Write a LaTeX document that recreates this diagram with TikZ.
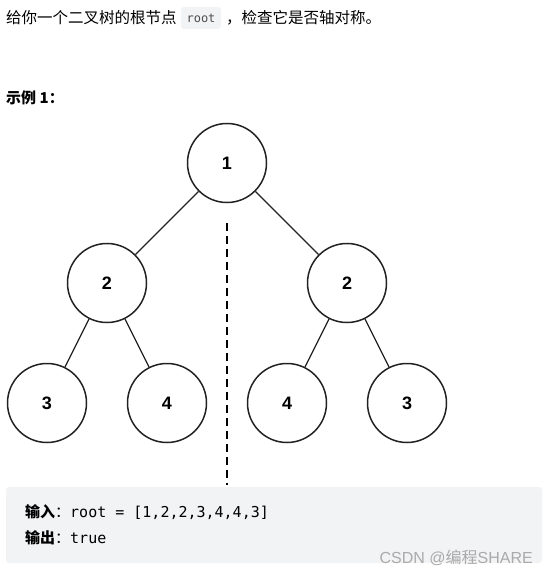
\documentclass[tikz,border=0pt]{standalone}
\usepackage{fontspec}
\setmainfont{Liberation Sans}
\setmonofont{DejaVu Sans Mono}
\newfontfamily\cjk{Noto Sans CJK SC}
\usepackage{xcolor}
\definecolor{ink}{RGB}{34,34,34}
\definecolor{codebg}{RGB}{242,243,245}
\definecolor{mark}{RGB}{170,170,170}
\usetikzlibrary{positioning}

\begin{document}
\begin{tikzpicture}[
        x=1pt, y=-1pt,
        treenode/.style={circle, draw=ink, line width=1.5pt, minimum size=79pt, inner sep=0pt, font=\fontsize{18}{18}\selectfont\bfseries},
        edge/.style={draw=ink, line width=1.3pt},
        axis/.style={draw=black, line width=2.6pt, dash pattern=on 8pt off 5pt},
        txt/.style={anchor=west, inner sep=0pt, font=\fontsize{15}{15}\selectfont\cjk}
    ]
        \useasboundingbox (0,0) rectangle (548,577);

        % heading text
        \fill[codebg, rounded corners=3pt] (181,7) rectangle (221,29);
        \node[txt, font=\fontsize{15.5}{15.5}\selectfont\cjk] (q1) at (6,18) {给你一个二叉树的根节点};
        \node[anchor=center, inner sep=0pt, font=\fontsize{12}{12}\ttfamily, text=ink!80] (code) at (201,18) {root};
        \node[txt, font=\fontsize{15.5}{15.5}\selectfont\cjk] (q2) at (226,18) {，检查它是否轴对称。};
        \node[txt, font=\fontsize{15}{15}\selectfont\cjk\bfseries] (ex) at (6,98) {示例 \textbf{1}：};

        % tree
        \node[treenode] (root) at (227,163) {1};
        \node[treenode] (l) at (107,283) {2};
        \node[treenode] (r) at (347,283) {2};
        \node[treenode] (ll) at (47,403) {3};
        \node[treenode] (lr) at (167,403) {4};
        \node[treenode] (rl) at (287,403) {4};
        \node[treenode] (rr) at (407,403) {3};

        \foreach \a/\b in {root/l, root/r, l/ll, l/lr, r/rl, r/rr} {
            \draw[edge] (\a) -- (\b);
        }

        % mirror axis
        \coordinate (axtop) at (227,223);
        \coordinate (axbot) at (227,485);
        \draw[axis] (axtop) -- (axbot);

        % input / output box
        \fill[codebg, rounded corners=3pt] (6,487) rectangle (542,563);
        \node[txt] (in) at (25,512) {\textbf{输入}：{\fontsize{15}{15}\ttfamily root = [1,2,2,3,4,4,3]}};
        \node[txt] (out) at (25,538) {\textbf{输出}：{\fontsize{15}{15}\ttfamily true}};
        \node[anchor=east, inner sep=0pt, text=mark, font=\fontsize{16}{16}\selectfont\rmfamily] (wm) at (533,558) {CSDN @{\cjk 编程}SHARE};
    \end{tikzpicture}
\end{document}
